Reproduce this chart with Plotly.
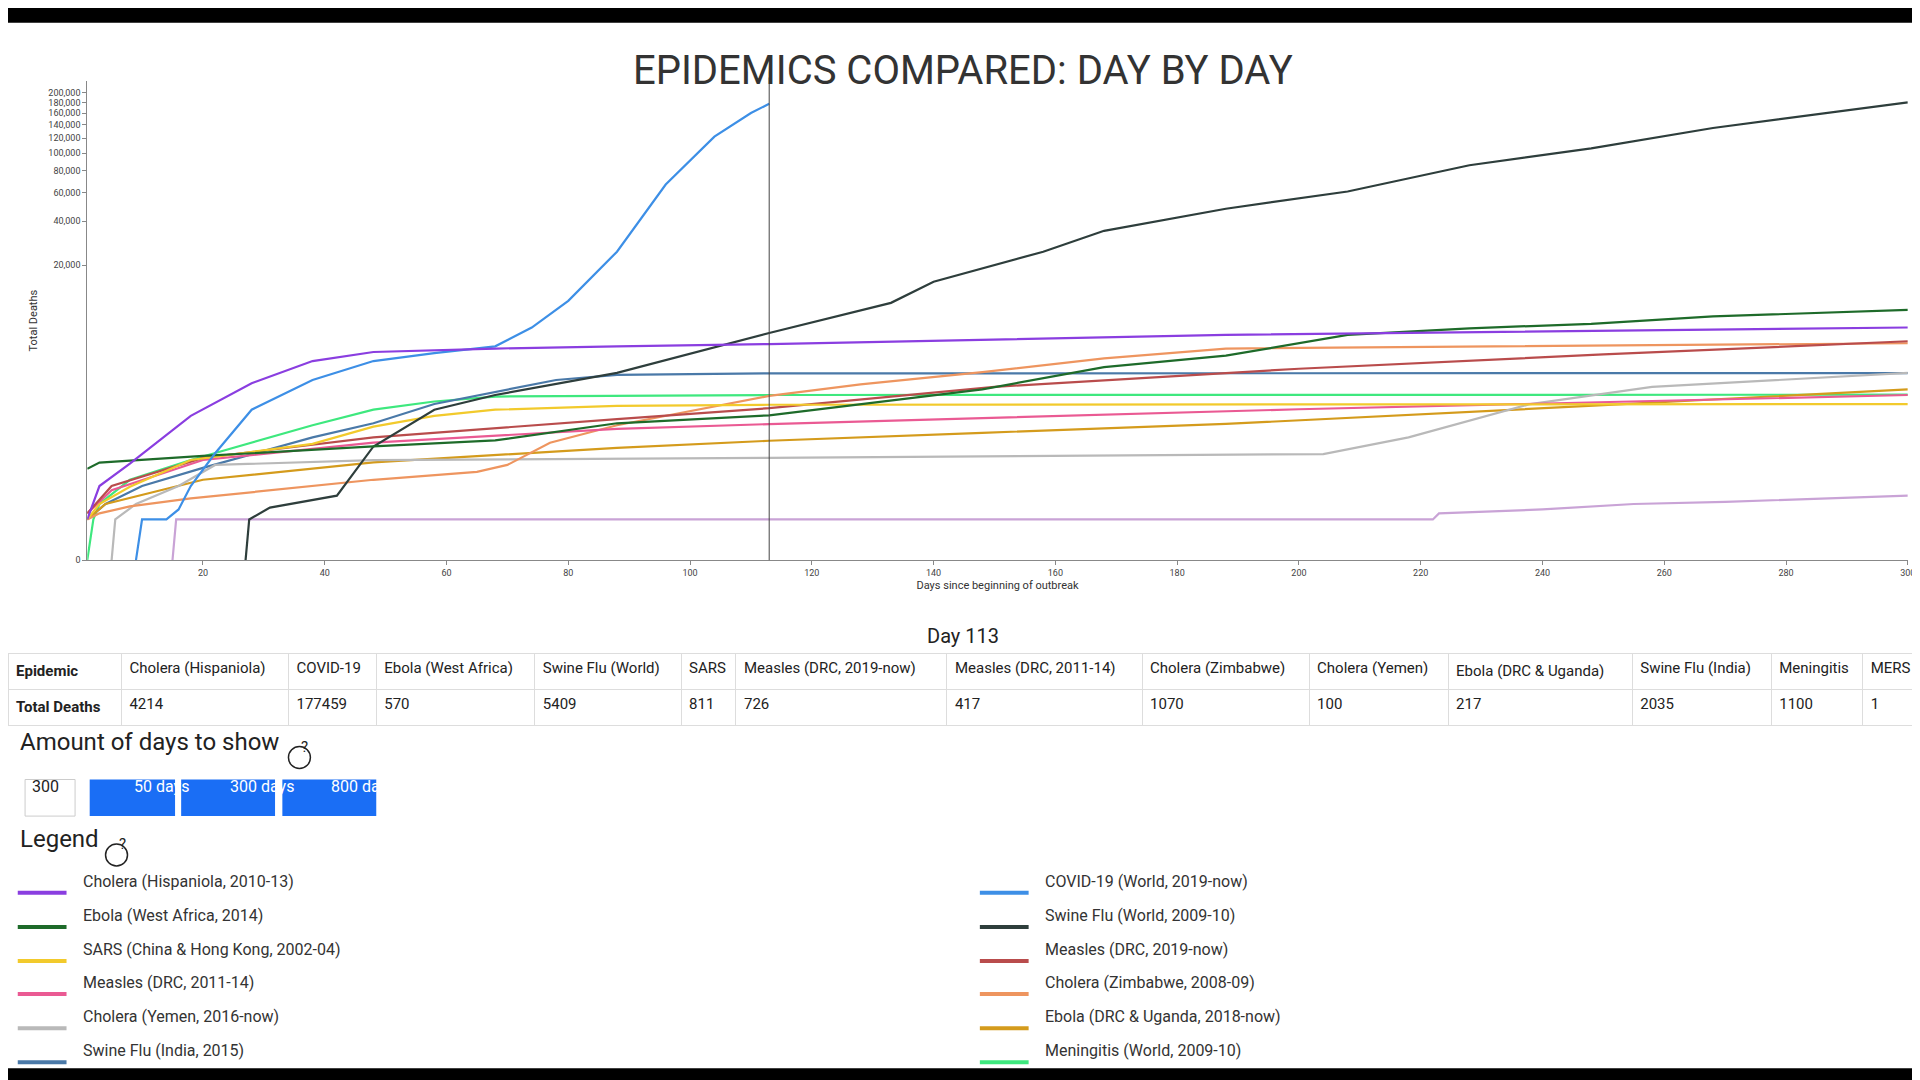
import plotly.graph_objects as go

W, H = 1568.0, 882.0   # reference pixel space, scaled to the 1920x1080 page

def px(x):
    return x / W

def py(y):
    return 1 - y / H

EXP = 0.2  # pow scale exponent of the y axis

names = ["Cholera (Hispaniola, 2010-13)", "COVID-19 (World, 2019-now)", "Ebola (West Africa, 2014)",
         "Swine Flu (World, 2009-10)", "SARS (China & Hong Kong, 2002-04)", "Measles (DRC, 2019-now)",
         "Measles (DRC, 2011-14)", "Cholera (Zimbabwe, 2008-09)", "Cholera (Yemen, 2016-now)",
         "Ebola (DRC & Uganda, 2018-now)", "Swine Flu (India, 2015)", "Meningitis (World, 2009-10)",
         "MERS (World, 2012-now)"]
colors = ["#8a3ee0", "#3d8fe6", "#1e6b2a", "#2e3e3c", "#f2ca2c", "#b94c4c", "#ea5a93",
          "#ee955f", "#b9b9b9", "#d49b1c", "#4a79a8", "#3ee87e", "#c9a3d6"]

hisp_days = [1, 3, 8, 18, 28, 38, 48, 68, 88, 113, 188, 300]
hisp_vals = [1, 20, 75, 560, 1550, 2800, 3500, 3800, 4000, 4214, 5200, 6100]
covid_days = [9, 10, 14, 16, 18, 22, 28, 38, 48, 58, 68, 74, 80, 88, 96, 104, 110, 113]
covid_vals = [0, 1, 1, 3, 20, 125, 690, 1700, 2800, 3400, 4000, 6100, 10500, 25000, 67000, 122000, 160000, 177459]
ebwa_days = [1, 3, 20, 48, 68, 88, 113, 128, 148, 168, 188, 208, 228, 248, 268, 300]
ebwa_vals = [57, 79, 110, 170, 220, 430, 570, 830, 1300, 2400, 3200, 5200, 6000, 6600, 7700, 8800]
swine_days = [27, 27.6, 31, 42, 48, 58, 68, 88, 113, 133, 140, 158, 168, 188, 208, 228, 248, 268, 300]
swine_vals = [0, 1, 3.6, 10, 170, 690, 1100, 2060, 5409, 10100, 15000, 25000, 34700, 48000, 61000, 86000, 106000, 135000, 180000]
sars_days = [1, 3, 8, 18, 38, 48, 58, 68, 88, 113, 200, 300]
sars_vals = [1, 5, 19, 90, 190, 380, 560, 690, 780, 811, 820, 830]
meas19_days = [1, 5, 20, 48, 88, 113, 150, 200, 250, 300]
meas19_vals = [2, 20, 100, 250, 500, 726, 1400, 2300, 3300, 4500]
meas11_days = [1, 5, 20, 48, 88, 113, 200, 300]
meas11_vals = [2, 15, 90, 200, 350, 417, 700, 1100]
zim_days = [1, 3, 8, 18, 48, 65, 70, 77, 88, 113, 128, 148, 168, 188, 300]
zim_vals = [1, 2, 4, 8, 30, 48, 70, 200, 400, 1070, 1500, 2100, 3000, 3800, 4300]
yemen_days = [5, 5.6, 9, 16, 22, 48, 113, 204, 218, 238, 258, 300]
yemen_vals = [0, 1, 5, 20, 70, 90, 100, 120, 250, 830, 1400, 2060]
ebdrc_days = [1, 4, 20, 48, 88, 113, 148, 188, 250, 300]
ebdrc_vals = [1, 5, 30, 80, 160, 217, 300, 420, 800, 1300]
india_days = [1, 4, 10, 20, 38, 48, 58, 68, 78, 88, 113, 300]
india_vals = [1, 5, 20, 60, 250, 430, 830, 1200, 1700, 1950, 2035, 2050]
menin_days = [1, 2, 3, 8, 18, 28, 38, 48, 58, 68, 113, 300]
menin_vals = [0, 1, 5, 30, 90, 200, 400, 690, 900, 1050, 1100, 1110]
mers_days = [15, 15.6, 222, 223, 240, 255, 270, 285, 300]
mers_vals = [0, 1, 1, 2, 3, 5, 6, 8, 10]

series = [(hisp_days, hisp_vals), (covid_days, covid_vals), (ebwa_days, ebwa_vals),
          (swine_days, swine_vals), (sars_days, sars_vals), (meas19_days, meas19_vals),
          (meas11_days, meas11_vals), (zim_days, zim_vals), (yemen_days, yemen_vals),
          (ebdrc_days, ebdrc_vals), (india_days, india_vals), (menin_days, menin_vals),
          (mers_days, mers_vals)]

table_head = ["Epidemic", "Cholera (Hispaniola)", "COVID-19", "Ebola (West Africa)", "Swine Flu (World)",
              "SARS", "Measles (DRC, 2019-now)", "Measles (DRC, 2011-14)", "Cholera (Zimbabwe)",
              "Cholera (Yemen)", "Ebola (DRC & Uganda)", "Swine Flu (India)", "Meningitis", "MERS"]
table_row = ["Total Deaths", "4214", "177459", "570", "5409", "811", "726", "417", "1070",
             "100", "217", "2035", "1100", "1"]
col_widths = [93, 137, 72, 130, 120, 45, 173, 160, 137, 114, 151, 114, 75, 47]

y_ticks = [0, 20000, 40000, 60000, 80000, 100000, 120000, 140000, 160000, 180000, 200000]
x_ticks = list(range(20, 301, 20))
current_day = 113

fig = go.Figure()

# draw back to front like the original (MERS first)
for i in reversed(range(len(series))):
    d, v = series[i]
    fig.add_trace(go.Scatter(x=d, y=[val ** EXP for val in v], mode="lines", name=names[i],
                             line=dict(color=colors[i], width=2.2), showlegend=False,
                             hoverinfo="skip"))

fig.add_trace(go.Table(
    domain=dict(x=[0, 1], y=[py(590), py(530)]),
    columnwidth=col_widths,
    header=dict(values=["<b>Epidemic</b>"] + table_head[1:], align="left", height=36,
                fill_color="white", line_color="#dddddd",
                font=dict(family="Roboto", size=15, color="#222")),
    cells=dict(values=[["<b>Total Deaths</b>"]] + [[c] for c in table_row[1:]], align="left",
               height=36, fill_color="white", line_color="#dddddd",
               font=dict(family="Roboto", size=15, color="#222")),
))

top_val = (20000 ** EXP) * (453 - 60) / 242
fig.update_layout(
    width=1920, height=1080, margin=dict(l=0, r=0, t=0, b=0),
    paper_bgcolor="white", plot_bgcolor="white",
    font=dict(family="Roboto", color="#333"),
    xaxis=dict(domain=[px(65), px(1558)], range=[1, 300], tickvals=x_ticks,
               showgrid=False, zeroline=False, showline=True, linecolor="#888", ticks="outside",
               ticklen=4, tickcolor="#888", tickfont=dict(size=9, color="#444"),
               title=dict(text="Days since beginning of outbreak", font=dict(size=11), standoff=4)),
    yaxis=dict(domain=[py(453), py(60)], range=[0, top_val],
               tickvals=[t ** EXP for t in y_ticks], ticktext=[f"{t:,}" for t in y_ticks],
               showgrid=False, zeroline=False, showline=True, linecolor="#888", ticks="outside",
               ticklen=4, tickcolor="#888", tickfont=dict(size=9, color="#444"),
               title=dict(text="Total Deaths", font=dict(size=11), standoff=8)),
)

shapes = [
    dict(type="rect", xref="paper", yref="paper", x0=0, x1=1, y0=py(12), y1=1,
         fillcolor="black", line_width=0),
    dict(type="rect", xref="paper", yref="paper", x0=0, x1=1, y0=0, y1=py(870),
         fillcolor="black", line_width=0),
    dict(type="line", xref="x", yref="paper", x0=current_day, x1=current_day,
         y0=py(453), y1=py(57), line=dict(color="#444", width=1)),
]
ann = [
    dict(text="EPIDEMICS COMPARED: DAY BY DAY", x=px(783), y=py(30), font=dict(size=40, color="#333")),
    dict(text=f"Day {current_day}", x=px(783), y=py(515), font=dict(size=20, color="#222")),
    dict(text="Amount of days to show", x=px(8), y=py(615), xanchor="left", font=dict(size=24, color="#222")),
    dict(text="Legend", x=px(8), y=py(695), xanchor="left", font=dict(size=24, color="#222")),
    dict(text="300", x=px(18), y=py(648), xanchor="left", font=dict(size=16, color="#222")),
]
for cx, cy in [(239, 615), (89, 695)]:
    shapes.append(dict(type="circle", xref="paper", yref="paper", x0=px(cx - 9), x1=px(cx + 9),
                       y0=py(cy + 9), y1=py(cy - 9), line=dict(color="#222", width=1.5)))
    ann.append(dict(text="?", x=px(cx), y=py(cy), font=dict(size=15, color="#222")))
shapes.append(dict(type="rect", xref="paper", yref="paper", x0=px(14), x1=px(55),
                   y0=py(663), y1=py(633), line=dict(color="#ccc", width=1), fillcolor="white"))
for x0, x1, label in [(67, 137, "50 days"), (142, 219, "300 days"), (225, 302, "800 days")]:
    shapes.append(dict(type="rect", xref="paper", yref="paper", x0=px(x0), x1=px(x1),
                       y0=py(663), y1=py(633), line_width=0, fillcolor="#1a6ef5"))
    ann.append(dict(text=label, x=px((x0 + x1) / 2), y=py(648), font=dict(size=16, color="white")))

# html-style legend below the table, two columns
rows = [726, 754, 782, 809, 837, 865]
for i, name in enumerate(names[:12]):
    col, row = i % 2, i // 2
    lx = 8 if col == 0 else 797
    yy = rows[row]
    shapes.append(dict(type="line", xref="paper", yref="paper", x0=px(lx), x1=px(lx + 40),
                       y0=py(yy), y1=py(yy), line=dict(color=colors[i], width=4)))
    ann.append(dict(text=name, x=px(lx + 52), y=py(yy), xanchor="left",
                    font=dict(size=16, color="#333")))
# keep the bottom bar above the cut-off last legend row
shapes.append(dict(type="rect", xref="paper", yref="paper", x0=0, x1=1, y0=0, y1=py(871),
                   fillcolor="black", line_width=0, layer="above"))

for a in ann:
    a.update(xref="paper", yref="paper", showarrow=False)
fig.update_layout(shapes=shapes, annotations=ann)

fig.write_html("out.html")
